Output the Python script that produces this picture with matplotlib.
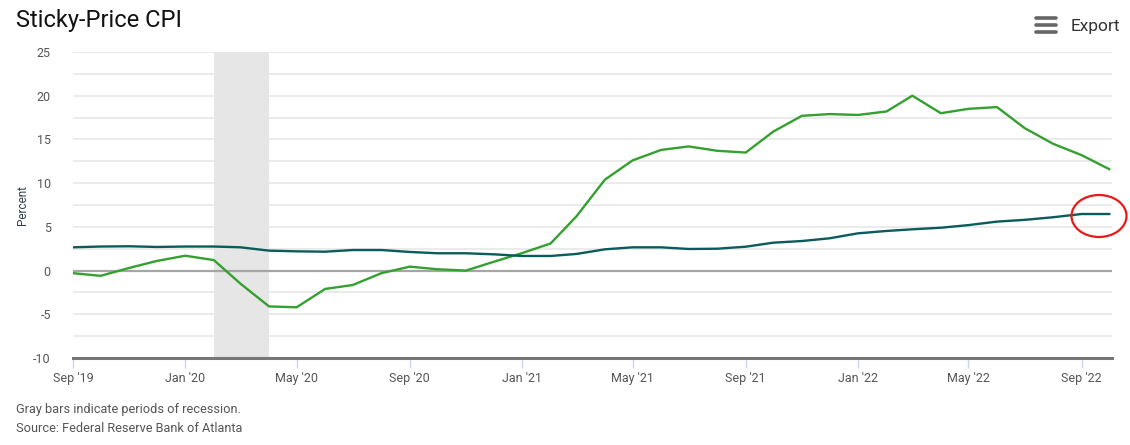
import numpy as np
import pandas as pd
import matplotlib
matplotlib.use("Agg")
import matplotlib.pyplot as plt
from matplotlib.patches import Ellipse

plt.rcParams['font.family'] = ['Roboto', 'DejaVu Sans']
plt.rcParams['axes.unicode_minus'] = False

# monthly data, Sep 2019 - Oct 2022
months = pd.date_range("2019-09-01", "2022-10-01", freq="MS")

flexible = [-0.3, -0.6, 0.3, 1.1, 1.7, 1.2, -1.5, -4.1, -4.2, -2.1, -1.65, -0.3,
            0.45, 0.15, 0.0, 1.0, 2.0, 3.1, 6.2, 10.4, 12.6, 13.8, 14.2, 13.7,
            13.5, 15.9, 17.7, 17.9, 17.8, 18.2, 20.0, 18.0, 18.5, 18.7, 16.3, 14.5,
            13.2, 11.6]

sticky = [2.66, 2.75, 2.78, 2.7, 2.75, 2.75, 2.66, 2.28, 2.2, 2.16, 2.35, 2.35,
          2.13, 1.98, 1.98, 1.86, 1.67, 1.67, 1.9, 2.43, 2.66, 2.66, 2.47, 2.5,
          2.73, 3.19, 3.38, 3.69, 4.26, 4.53, 4.72, 4.9, 5.2, 5.6, 5.8, 6.1,
          6.47, 6.47]

tick_dates = pd.date_range("2019-09-01", "2022-09-01", freq="4MS")
tick_labels = [d.strftime("%b '%y") for d in tick_dates]
recession = (pd.Timestamp("2020-02-01"), pd.Timestamp("2020-04-01"))

fig = plt.figure(figsize=(11.3, 4.45), dpi=100)
ax = fig.add_axes([73 / 1130, 1 - 358 / 445, (1112 - 73) / 1130, (358 - 52) / 445])

# recession shading
ax.axvspan(recession[0], recession[1], color="#e6e6e6", lw=0, zorder=0)

# grid lines every 2.5
for v in np.arange(-7.5, 25.1, 2.5):
    if v == 0:
        continue
    ax.axhline(v, color="#e6e6e6", lw=1.1, zorder=0.5)
ax.axhline(0, color="#a6a6a6", lw=1.6, zorder=1)

ax.plot(months, flexible, color="#34a02f", lw=1.7, zorder=3)
ax.plot(months, sticky, color="#0a5c5c", lw=1.7, zorder=3)

ax.set_xlim(months[0], months[-1] + pd.Timedelta(days=3))
ax.set_ylim(-10, 25)
ax.set_yticks(np.arange(-10, 26, 5))
ax.set_xticks(tick_dates)
ax.set_xticklabels(tick_labels)

for s in ["top", "right", "left"]:
    ax.spines[s].set_visible(False)
ax.spines["bottom"].set_color("#777777")
ax.spines["bottom"].set_linewidth(2.2)

ax.tick_params(axis="y", length=0, labelsize=9, labelcolor="#555555", pad=16)
ax.tick_params(axis="x", length=7, width=1, color="#ccd6eb", labelsize=9,
               labelcolor="#555555", pad=3)

ax.set_ylabel("Percent", fontsize=8.5, color="#2f3f4a", labelpad=3)

fig.text(16 / 1130, 1 - 20 / 445, "Sticky-Price CPI", fontsize=17, va="center", ha="left", color="#111111")
fig.text(1120 / 1130, 1 - 26 / 445, "Export", fontsize=12.5, va="center", ha="right", color="#333333")
for yy in [18, 25, 32]:
    fig.add_artist(plt.Line2D([1036 / 1130, 1056 / 1130], [1 - yy / 445, 1 - yy / 445],
                              color="#666666", lw=2.6, solid_capstyle="round"))

fig.text(16 / 1130, 1 - 410 / 445, "Gray bars indicate periods of recession.", fontsize=9.2,
         va="center", ha="left", color="#555555")
fig.text(16 / 1130, 1 - 429 / 445, "Source: Federal Reserve Bank of Atlanta", fontsize=9.2,
         va="center", ha="left", color="#555555")

# red hand-drawn circle
fig.add_artist(Ellipse((1099 / 1130, 1 - 216 / 445), 55 / 1130, 42 / 445,
                       transform=fig.transFigure, fill=False, edgecolor="#e8191a", lw=1.6))

fig.savefig("out.png", dpi=100, facecolor="white")
